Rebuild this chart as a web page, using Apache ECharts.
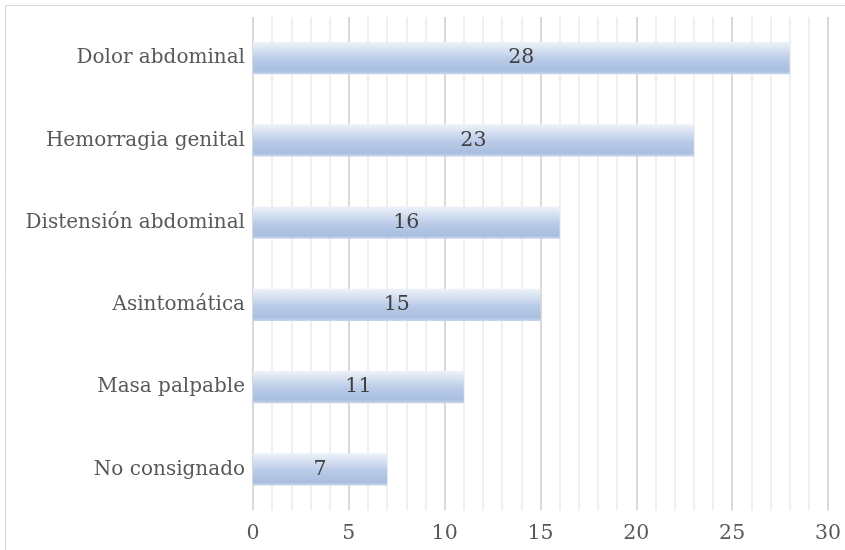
<!DOCTYPE html>
<html><head><meta charset="utf-8">
<script src="https://cdn.jsdelivr.net/npm/echarts@6/dist/echarts.min.js"></script>
<style>html,body{margin:0;padding:0;background:#fff}#c{width:845px;height:550px}</style>
</head><body><div id="c"></div>
<script>
const categories = ['No consignado','Masa palpable','Asintomática','Distensión abdominal','Hemorragia genital','Dolor abdominal'];
const values = [7, 11, 15, 16, 23, 28];
const xTicks = [0, 5, 10, 15, 20, 25, 30];

const chart = echarts.init(document.getElementById('c'));
const font = 'DejaVu Serif';
chart.setOption({
  animation: false,
  backgroundColor: '#fff',
  graphic: [{type:'rect', shape:{x:5.5,y:5.5,width:860,height:560}, style:{fill:'none', stroke:'#d9d9d9', lineWidth:1}, silent:true}],
  grid: {left: 253, right: 17, top: 17, bottom: 39.5},
  xAxis: {
    type: 'value', min: xTicks[0], max: xTicks[xTicks.length-1], interval: 5,
    axisLine: {show:false}, axisTick: {show:false},
    axisLabel: {color:'#595959', fontFamily: font, fontSize: 20.5, margin: 13},
    splitLine: {show:true, lineStyle:{color:'#d9d9d9', width:2}},
    minorTick: {show:false, splitNumber: 5},
    minorSplitLine: {show:true, lineStyle:{color:'#efefef', width:2}}
  },
  yAxis: {
    type: 'category', data: categories,
    axisLine: {show:false}, axisTick: {show:false},
    axisLabel: {color:'#595959', fontFamily: font, fontSize: 20, margin: 8}
  },
  series: [{
    type: 'bar', data: values, barWidth: '39%',
    itemStyle: {color: new echarts.graphic.LinearGradient(0,0,0,1,[
      {offset:0, color:'#eef2f9'},
      {offset:0.55, color:'#b8cae7'},
      {offset:0.9, color:'#a9bfe0'},
      {offset:1, color:'#c8d6ed'}
    ])},
    label: {show:true, position:'inside', color:'#404040', fontFamily: font, fontSize: 20.5}
  }]
});
</script></body></html>
